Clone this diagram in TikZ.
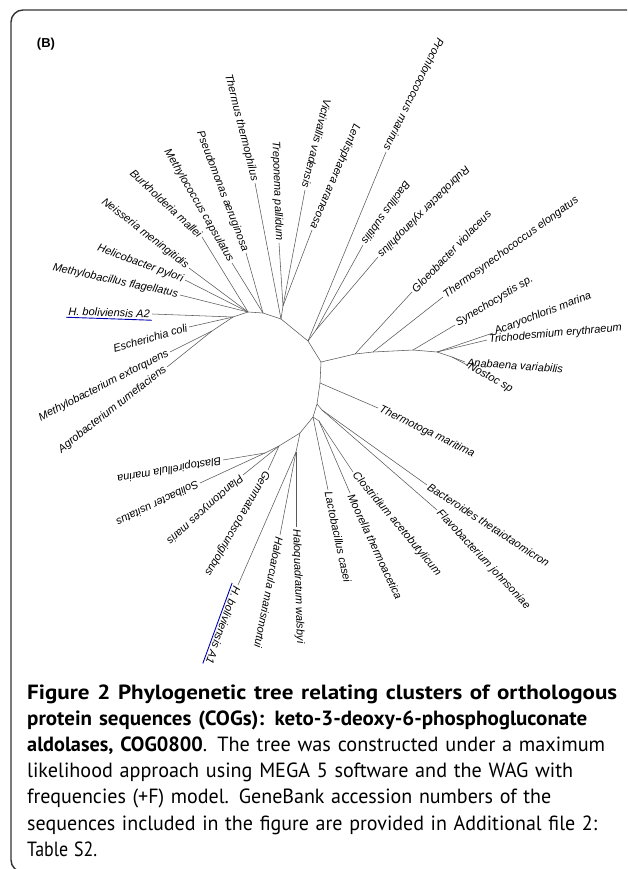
\documentclass[tikz,border=0pt]{standalone}
\usepackage{graphicx}
\usepackage{fontspec}
\setmainfont{Liberation Sans}
\newfontfamily\capfont{PT Sans}[BoldFont={PT Sans Bold}]
\newlength\capwa
\newlength\capwb
% caption size: lines four and six are 546pt and 570pt wide
\AtBeginDocument{%
  \settowidth\capwa{\capfont\fontsize{10}{12}\selectfont likelihood approach using MEGA 5 software and the WAG with}%
  \settowidth\capwb{\capfont\fontsize{10}{12}\selectfont sequences included in the figure are provided in Additional file 2:}%
  \pgfmathsetmacro\capsize{10*(546+570)/(\capwa+\capwb)}}
% one caption line, set to the width it has in the figure
\newcommand\capline[2]{\resizebox{#1pt}{\height}{#2}}

\begin{document}
\begin{tikzpicture}[x=1pt,y=-1pt,
  branch/.style={draw=black!65,line width=0.55pt},
  tipin/.style={anchor=east,inner sep=2pt,font=\fontsize{11}{12}\selectfont\itshape},
  tipout/.style={anchor=west,inner sep=2pt,font=\fontsize{11}{12}\selectfont\itshape}]
  \useasboundingbox (0,0) rectangle (627,869);
  \clip (0,0) rectangle (627,869);
  \draw[black!80,line width=1.4pt,rounded corners=12pt] (11,10) rectangle (640,872);
  \node[font=\bfseries\fontsize{13}{14}\selectfont,inner sep=0pt] (panel) at (46,44) {(B)};

  % inner nodes of the tree
  \coordinate (a0) at (233,317);
  \coordinate (a1) at (212,331);
  \coordinate (n1) at (248,312);
  \coordinate (n2) at (263,313);
  \coordinate (b0) at (281,319);
  \coordinate (b1) at (283,306);
  \coordinate (c0) at (308,341);
  \coordinate (c1) at (316,330);
  \coordinate (d0) at (321,362);
  \coordinate (d1) at (355,354);
  \coordinate (d2) at (373,352);
  \coordinate (d3) at (413,350);
  \coordinate (d4) at (437,352);
  \coordinate (d5) at (452,357);
  \coordinate (e0) at (320,383);
  \coordinate (f0) at (317,404);
  \coordinate (f1) at (322,410);
  \coordinate (g0) at (313,417);
  \coordinate (g1) at (319,421);
  \coordinate (h0) at (300,433);
  \coordinate (h1) at (296,452);
  \coordinate (i0) at (279,446);
  \coordinate (i1) at (265,453);

  % backbone and inner branches
  \draw[branch] (a0) -- (n1) -- (n2) -- (b0) -- (c0) -- (d0) -- (e0) -- (f0) -- (g0) -- (h0) -- (i0);
  \draw[branch] (a0) -- (a1);
  \draw[branch] (b0) -- (b1);
  \draw[branch] (c0) -- (c1);
  \draw[branch] (d0) -- (d1) -- (d2) -- (d3) -- (d4) -- (d5);
  \draw[branch] (f0) -- (f1);
  \draw[branch] (g0) -- (g1);
  \draw[branch] (h0) -- (h1);
  \draw[branch] (i0) -- (i1);

  % leaves: name/x/y/parent/angle/side/label
  \foreach \nm/\tx/\ty/\up/\ang/\side/\txt in {
    mfl/180/295/n1/-12/tipin/Methylobacillus flagellatus,
    hpy/185/280/n1/-20/tipin/Helicobacter pylori,
    nme/189/268/n1/-38/tipin/Neisseria meningitidis,
    bma/202/237/n1/-43/tipin/Burkholderia mallei,
    mca/232/263/n2/-60/tipin/Methylococcus capsulatus,
    pae/246/253/n2/-69/tipin/Pseudomonas aeruginosa,
    tth/255/183/b0/-76/tipin/Thermus thermophilus,
    tpa/279/243/b1/-88/tipin/Treponema pallidum,
    vva/305/190/b1/-104/tipin/Victivallis vadensis,
    lar/312/230/b1/-113/tipin/Lentisphaera araneosa,
    pma/386/152/c0/-116/tipin/Prochlorococcus marinus,
    bsu/363/245/c1/-126/tipin/Bacillus subtilis,
    rxy/378/257/c1/-135/tipin/Rubrobacter xylanophilus,
    gvi/412/292/d1/46/tipout/Gloeobacter violaceus,
    tel/443/297/d2/36/tipout/Thermosynechococcus elongatus,
    syn/455/325/d3/31/tipout/Synechocystis sp.,
    ama/493/333/d4/21/tipout/Acaryochloris marina,
    ter/487/340/d4/5/tipout/Trichodesmium erythraeum,
    ava/465/362/d5/-4/tipout/Anabaena variabilis,
    nos/467/365/d5/-29/tipout/Nostoc sp,
    tma/378/408/e0/-26/tipout/Thermotoga maritima,
    bth/427/485/f1/-33/tipout/Bacteroides thetaiotaomicron,
    fjo/437/510/f1/-47/tipout/Flavobacterium johnsoniae,
    cac/353/472/g1/-50/tipout/Clostridium acetobutylicum,
    mth/350/493/g1/-65/tipout/Moorella thermoacetica,
    lca/328/490/g0/-78/tipout/Lactobacillus casei,
    hwa/296/527/h1/-88/tipout/Haloquadratum walsbyi,
    hma/280/535/h1/-101/tipout/Haloarcula marismortui,
    hbA/238/585/h1/-110/tipout/H. boliviensis A1,
    gob/268/470/i0/-120/tipout/Gemmata obscuriglobus,
    pmr/243/475/i0/-138/tipout/Planctomyces maris,
    sus/200/483/i1/-154/tipout/Solibacter usitatus,
    bmr/223/460/i1/-170/tipout/Blastopirellula marina,
    atu/167/367/a1/38/tipin/Agrobacterium tumefaciens,
    mex/170/352/a1/27/tipin/Methylobacterium extorquens,
    eco/189/327/a0/16/tipin/Escherichia coli,
    hbB/152/314/a0/-2/tipin/H. boliviensis A2}
  {
    \coordinate (\nm) at (\tx,\ty);
    \draw[branch] (\up) -- (\nm);
    \node[\side,rotate=\ang] (\nm-lab) at (\nm) {\txt};
  }
  % the two H. boliviensis sequences
  \draw[blue!70!black,line width=0.9pt] (hbA-lab.south west) -- (hbA-lab.south east);
  \draw[blue!70!black,line width=0.9pt] (hbB-lab.south west) -- (hbB-lab.south east);

  \node[anchor=base west,text width=600pt,inner sep=0pt,align=left,
        font=\capfont\fontsize{\capsize}{26.2}\selectfont] (caption) at (27,699) {%
    \capline{590}{\bfseries Figure 2 Phylogenetic tree relating clusters of orthologous}\\
    \capline{560}{\bfseries protein sequences (COGs): keto-3-deoxy-6-phosphogluconate}\\
    \capline{578}{\textbf{aldolases, COG0800}. The tree was constructed under a maximum}\\
    \capline{546}{likelihood approach using MEGA 5 software and the WAG with}\\
    \capline{524}{frequencies (+F) model. GeneBank accession numbers of the}\\
    \capline{570}{sequences included in the figure are provided in Additional file 2:}\\
    \capline{70}{Table S2.}};
\end{tikzpicture}
\end{document}
